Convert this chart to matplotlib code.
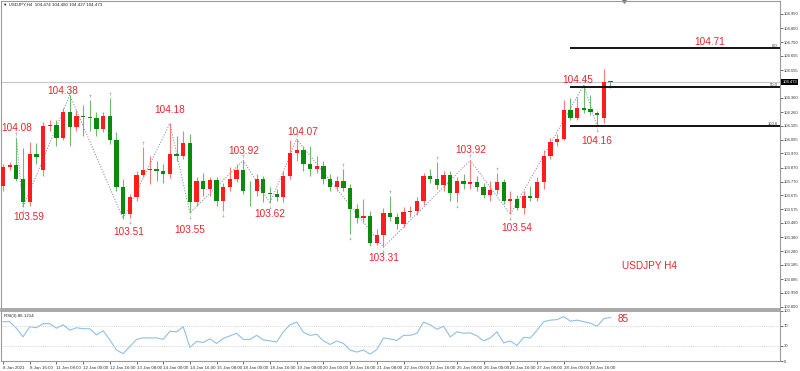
import numpy as np
import matplotlib
matplotlib.use('Agg')
import matplotlib.pyplot as plt
from matplotlib import transforms

plt.rcParams['font.family'] = ['Liberation Sans', 'DejaVu Sans']

# USDJPY H4 candles (8 Jan 2021 00:00 -> 29 Jan 04:00)
opens = [103.742, 103.871, 103.890, 103.789, 103.624, 103.966, 103.855, 104.159, 104.171, 104.081,
         104.257, 104.154, 104.229, 104.224, 104.219, 104.142, 104.229, 104.060, 103.730, 103.542,
         103.664, 103.817, 103.855, 103.858, 103.843, 103.824, 103.966, 103.954, 104.041, 103.624,
         103.777, 103.718, 103.782, 103.636, 103.735, 103.789, 103.853, 103.706, 103.702, 103.789,
         103.694, 103.683, 103.666, 103.812, 103.970, 103.994, 103.895, 103.860, 103.883, 103.789,
         103.730, 103.772, 103.725, 103.576, 103.514, 103.530, 103.341, 103.395, 103.553, 103.523,
         103.471, 103.560, 103.565, 103.636, 103.812, 103.789, 103.749, 103.819, 103.694, 103.772,
         103.754, 103.765, 103.735, 103.678, 103.711, 103.765, 103.636, 103.650, 103.588, 103.671,
         103.659, 103.765, 103.954, 104.048, 104.074, 104.272, 104.220, 104.288, 104.279, 104.255,
         104.220, 104.474]
highs = [103.897, 103.910, 104.080, 104.004, 104.048, 104.041, 104.187, 104.201, 104.201, 104.286,
         104.380, 104.272, 104.307, 104.342, 104.257, 104.260, 104.356, 104.123, 103.791, 103.685,
         103.848, 104.012, 103.954, 103.918, 103.897, 104.180, 104.095, 104.130, 104.109, 103.805,
         103.834, 103.805, 103.805, 103.763, 103.871, 103.897, 103.920, 103.777, 103.826, 103.812,
         103.735, 103.720, 103.848, 104.060, 104.070, 104.024, 104.024, 103.954, 103.918, 103.826,
         103.812, 103.862, 103.756, 103.614, 103.650, 103.565, 103.438, 103.586, 103.671, 103.551,
         103.593, 103.600, 103.664, 103.828, 103.862, 103.906, 103.848, 103.848, 103.805, 103.826,
         103.920, 103.812, 103.763, 103.777, 103.834, 103.791, 103.706, 103.678, 103.706, 103.742,
         103.805, 103.990, 104.080, 104.109, 104.342, 104.356, 104.366, 104.450, 104.378, 104.265,
         104.561, 104.480]
lows = [103.706, 103.855, 103.777, 103.590, 103.600, 103.897, 103.812, 104.130, 104.024, 104.060,
        104.024, 104.130, 104.095, 104.130, 104.095, 104.123, 104.038, 103.706, 103.510, 103.515,
        103.636, 103.800, 103.756, 103.777, 103.763, 103.798, 103.918, 103.932, 103.550, 103.600,
        103.671, 103.671, 103.600, 103.565, 103.706, 103.770, 103.683, 103.600, 103.671, 103.624,
        103.620, 103.636, 103.624, 103.791, 103.918, 103.848, 103.812, 103.834, 103.756, 103.706,
        103.706, 103.706, 103.402, 103.480, 103.480, 103.320, 103.325, 103.310, 103.494, 103.438,
        103.452, 103.523, 103.537, 103.607, 103.763, 103.720, 103.706, 103.636, 103.624, 103.720,
        103.720, 103.706, 103.657, 103.636, 103.685, 103.614, 103.540, 103.572, 103.544, 103.636,
        103.636, 103.720, 103.932, 104.024, 104.060, 104.201, 104.201, 104.250, 104.236, 104.160,
        104.180, 104.427]
closes = [103.871, 103.890, 103.789, 103.624, 103.966, 103.947, 104.159, 104.171, 104.081, 104.257,
          104.154, 104.229, 104.224, 104.219, 104.142, 104.229, 104.060, 103.730, 103.542, 103.664,
          103.817, 103.855, 103.858, 103.843, 103.824, 103.966, 103.954, 104.041, 103.624, 103.777,
          103.718, 103.782, 103.636, 103.735, 103.789, 103.853, 103.706, 103.702, 103.789, 103.694,
          103.683, 103.666, 103.812, 103.970, 103.994, 103.895, 103.860, 103.883, 103.789, 103.730,
          103.772, 103.725, 103.576, 103.514, 103.530, 103.341, 103.395, 103.553, 103.523, 103.471,
          103.560, 103.565, 103.636, 103.812, 103.789, 103.749, 103.819, 103.694, 103.772, 103.754,
          103.765, 103.735, 103.678, 103.711, 103.765, 103.636, 103.650, 103.588, 103.671, 103.659,
          103.765, 103.954, 104.048, 104.074, 104.272, 104.220, 104.288, 104.272, 104.257, 104.236,
          104.472, 104.473]

rsi = [78, 78, 65, 48, 68, 66, 74, 74, 65, 72,
       61, 66, 64, 64, 52, 60, 42, 22, 15, 29,
       43, 46, 46, 46, 43, 59, 58, 68, 27, 39,
       37, 44, 35, 45, 50, 55, 43, 43, 51, 42,
       40, 38, 58, 72, 77, 57, 51, 53, 40, 33,
       40, 35, 22, 18, 22, 14, 23, 46, 44, 41,
       51, 51, 55, 77, 72, 63, 69, 48, 58, 55,
       56, 50, 40, 46, 58, 36, 40, 31, 47, 46,
       61, 78, 81, 82, 88, 79, 81, 78, 75, 69,
       84, 86.1]

# zigzag swing points and their labels
swing_idx = [2, 3, 10, 18, 25, 28, 36, 40, 44, 57, 70, 76, 87, 89]
swing_price = [104.08, 103.59, 104.38, 103.51, 104.18, 103.55, 103.92, 103.62, 104.07, 103.31,
               103.92, 103.54, 104.45, 104.16]
swing_offsets = [(0, 10), (6, -10), (-7, 4), (6, -13), (0, 13), (0, -17), (0, 9), (0, -11),
                 (6, 7), (0, -11), (0, 10), (6, -14), (-6, 5), (0, -15)]

fractal_up = [2, 10, 13, 16, 21, 36, 44, 51, 58, 65, 70, 74, 87]
fractal_down = [3, 19, 28, 33, 40, 52, 57, 68, 76, 89]

fib_levels = [104.71, 104.435, 104.16]
fib_names = ['0.0', '50.0', '100.0']
fib_start = 84.9

current_price = 104.473

price_ticks = [104.950, 104.850, 104.750, 104.655, 104.555, 104.360, 104.260, 104.165, 104.065,
               103.970, 103.870, 103.770, 103.675, 103.575, 103.480, 103.380, 103.280, 103.185,
               103.085, 102.990, 102.890]

date_idx = list(range(0, 92, 4))
date_labels = ['8 Jan 2021', '8 Jan 16:00', '11 Jan 08:00', '12 Jan 00:00', '12 Jan 16:00',
               '13 Jan 08:00', '14 Jan 00:00', '14 Jan 16:00', '15 Jan 08:00', '18 Jan 00:00',
               '18 Jan 16:00', '19 Jan 08:00', '20 Jan 00:00', '20 Jan 16:00', '21 Jan 08:00',
               '22 Jan 00:00', '22 Jan 16:00', '25 Jan 08:00', '26 Jan 00:00', '26 Jan 16:00',
               '27 Jan 08:00', '28 Jan 00:00', '28 Jan 16:00']

RED = '#ff1c1c'
GREEN = '#0b8a0b'
TXT = '#e8262d'
W, H = 800, 371

fig = plt.figure(figsize=(8, 3.71), dpi=100)
ax = fig.add_axes([1 / W, 1 - 309 / H, 779 / W, 308 / H])
rax = fig.add_axes([1 / W, 1 - 361.2 / H, 779 / W, 50.7 / H], sharex=ax)

o = np.array(opens)
c = np.array(closes)
x = np.arange(len(o))
bull = c >= o
body_col = [RED if b else GREEN for b in bull]
wick_col = ['#f47c7c' if b else '#6fb86f' for b in bull]
bottom = np.minimum(o, c)
height = np.maximum(np.abs(c - o), 0.004)

ax.vlines(x, lows, highs, colors=wick_col, linewidth=0.8, zorder=2)
ax.bar(x, height, bottom=bottom, width=0.64, color=body_col, linewidth=0, zorder=3)

# zigzag
ax.plot(swing_idx, swing_price, linestyle=(0, (1.2, 1.6)), color='#8a8ab8', lw=0.7, zorder=1)
for i, p, off in zip(swing_idx, swing_price, swing_offsets):
    ax.annotate(f'{p:.2f}', (i, p), xytext=off, textcoords='offset pixels',
                ha='center', va='center', color=TXT, fontsize=7.2)

# fractal arrows
up_tr = transforms.offset_copy(ax.transData, fig=fig, x=0, y=4, units='dots')
dn_tr = transforms.offset_copy(ax.transData, fig=fig, x=0, y=-4, units='dots')
ax.scatter(fractal_up, [highs[i] for i in fractal_up], marker=r'$\uparrow$', s=7,
           color='#8c8c8c', transform=up_tr, linewidths=0, zorder=4)
ax.scatter(fractal_down, [lows[i] for i in fractal_down], marker=r'$\downarrow$', s=7,
           color='#8c8c8c', transform=dn_tr, linewidths=0, zorder=4)

xmax = 116.4
ax.axhline(current_price, color='#c4c4c4', lw=0.8, zorder=0)
ax.hlines(fib_levels, fib_start, xmax, color='black', lw=1.3, zorder=5)
for lv, nm in zip(fib_levels, fib_names):
    ax.text(xmax - 0.3, lv, nm, ha='right', va='bottom', fontsize=3, color='#333333')
ax.annotate('104.71', (105.9, fib_levels[0]), xytext=(0, 6), textcoords='offset pixels',
            ha='center', va='center', color=TXT, fontsize=7.2)

ax.text(0.833, 0.141, 'USDJPY H4', transform=ax.transAxes, ha='center', va='center',
        color=TXT, fontsize=7.2)
ax.text(0.002, 0.994, '\u25bc USDJPY,H4  104.474 104.480 104.427 104.473',
        transform=ax.transAxes, ha='left', va='top', fontsize=3.2, color='#222222')

ax.set_xlim(-0.3, xmax)
ax.set_ylim(102.875, 105.041)
ax.yaxis.tick_right()
ax.set_yticks(price_ticks)
ax.set_yticklabels([f'{t:.3f}' for t in price_ticks])
ax.tick_params(axis='y', labelsize=3, length=2, width=0.5, pad=1, colors='#333333')
ax.tick_params(axis='x', bottom=False, labelbottom=False)
for s in ax.spines.values():
    s.set_color('#9a9a9a')
    s.set_linewidth(0.8)
ax.spines['bottom'].set_linewidth(1.2)
yx = transforms.blended_transform_factory(ax.transAxes, ax.transData)
ax.text(1.003, current_price, f'{current_price:.3f}', transform=yx, ha='left', va='center',
        fontsize=3, color='white', bbox=dict(facecolor='black', edgecolor='none', pad=0.8))
xa = transforms.blended_transform_factory(ax.transData, ax.transAxes)
ax.plot([93], [1.0], marker='v', ms=2.5, color='#707070', transform=xa, clip_on=False)

# RSI panel
rax.plot(x, rsi, color='#8fc1e2', lw=0.8)
rax.axhline(70, color='#c8c8c8', lw=0.6, linestyle=(0, (1, 1.5)))
rax.axhline(30, color='#c8c8c8', lw=0.6, linestyle=(0, (1, 1.5)))
rax.annotate('85', (x[-1], rsi[-1]), xytext=(13, -1.5), textcoords='offset pixels',
             ha='center', va='center', color=TXT, fontsize=7.2)
rax.text(0.004, 0.93, 'RSI(3) 86.1214', transform=rax.transAxes, ha='left', va='top',
         fontsize=3.2, color='#222222')
rax.set_ylim(0, 100)
rax.yaxis.tick_right()
rax.set_yticks([100, 70, 30, 0])
rax.set_yticklabels(['100', '70', '30', '0'])
rax.tick_params(axis='y', labelsize=3, length=2, width=0.5, pad=1, colors='#333333')
rax.set_xticks(date_idx)
rax.set_xticklabels(date_labels, ha='left')
rax.tick_params(axis='x', labelsize=3.2, length=2, width=0.5, pad=1.5, colors='#333333')
for s in rax.spines.values():
    s.set_color('#9a9a9a')
    s.set_linewidth(0.8)
rax.spines['top'].set_linewidth(1.2)

fig.savefig('out.png', dpi=100)
